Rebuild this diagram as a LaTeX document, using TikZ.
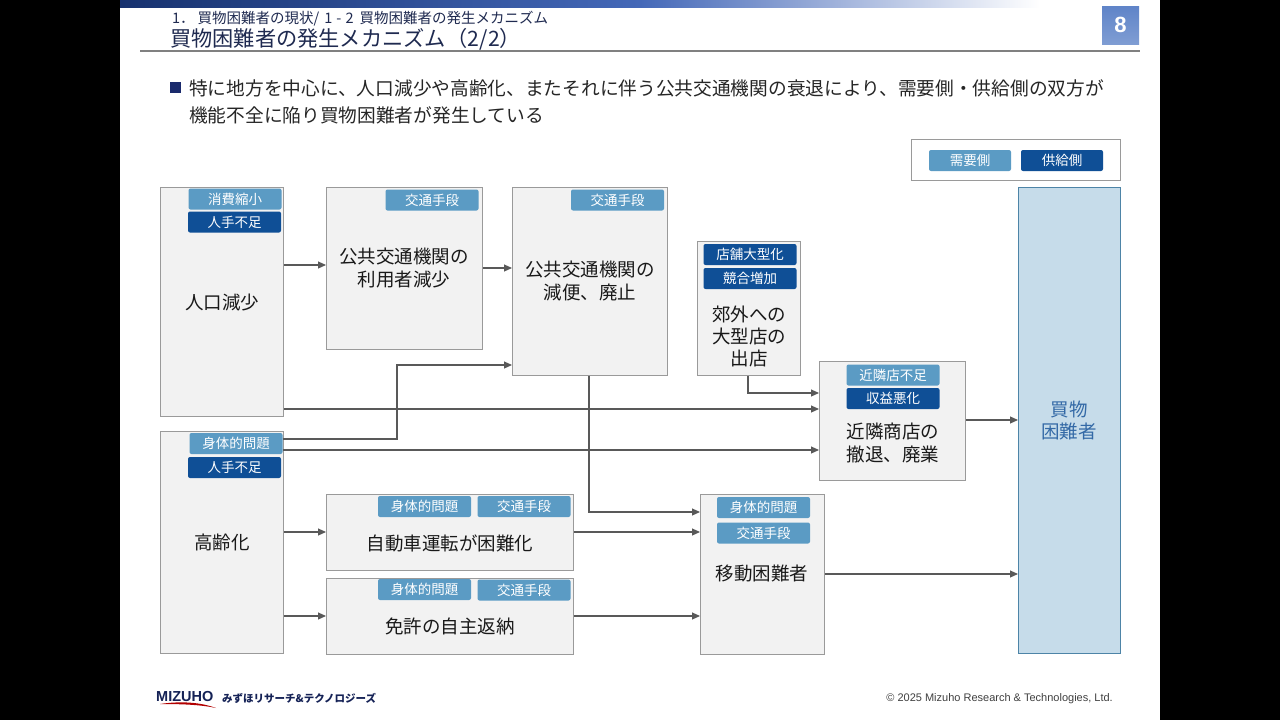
\documentclass[tikz,border=0pt]{standalone}
\usepackage{fontspec}
\setmainfont{Noto Sans CJK JP}
\newfontfamily\latinf{Liberation Sans}
\usetikzlibrary{arrows.meta,calc}
\definecolor{tagl}{HTML}{5B9BC4}
\definecolor{tagd}{HTML}{0F4F96}
\definecolor{boxf}{HTML}{F2F2F2}
\definecolor{boxd}{HTML}{9A9A9A}
\definecolor{conn}{HTML}{595959}
\definecolor{navy}{HTML}{1A2A6C}
\definecolor{titlec}{HTML}{1F2A50}
\definecolor{barl}{HTML}{17326F}
\definecolor{barm}{HTML}{4468B8}
\definecolor{pgt}{HTML}{5F84C8}
\definecolor{pgb}{HTML}{7F9DD3}
\tikzset{
  px/.style={x=1pt,y=-1pt},
  bodyt/.style={font=\fontsize{18.5}{22.3}\selectfont,text=black!90,align=center,inner sep=0pt},
  tagbase/.style={rounded corners=2pt,inner sep=0pt,text=white,font=\fontsize{13.5}{15}\selectfont,minimum width=93pt,minimum height=21pt},
  tagl/.style={tagbase,fill=tagl},
  tagd/.style={tagbase,fill=tagd},
  arr/.style={draw=conn,line width=1.05pt,-{Triangle[length=8pt,width=7pt]}},
}
\newcommand{\bx}[6][]{\node[draw=boxd,fill=boxf,line width=0.9pt,inner sep=0pt,
  minimum width=#5pt-#3pt-0.9pt,minimum height=#6pt-#4pt-0.9pt,#1] (#2) at ({(#3+#5)/2},{(#4+#6)/2}) {};}
\begin{document}
\begin{tikzpicture}[px]
\useasboundingbox (0,0) rectangle (1280,720);
\fill[black] (0,0) rectangle (1280,720);
\fill[white] (120,0) rectangle (1160,720);
% header
\shade[left color=barl,right color=barm] (120,0) rectangle (640,7);
\shade[left color=barm,right color=white] (640,0) rectangle (1040,7);
\node[anchor=west,inner sep=0pt,text=titlec,font=\fontsize{14.5}{16}\selectfont] (sub) at (172,18.5) {1．\hspace{3pt}買物困難者の現状/\hspace{5pt}1\hspace{4pt}-\hspace{4pt}2\hspace{6pt}買物困難者の発生メカニズム};
\node[anchor=west,inner sep=0pt,text=titlec,font=\fontsize{21.2}{24}\selectfont] (ttl) at (170,39) {買物困難者の発生メカニズム\hspace{1pt}（2/2）};
\draw[draw=gray,line width=1.3pt] (140,51) -- (1140,51);
\node[minimum width=37pt,minimum height=38pt,inner sep=0pt,top color=pgt,bottom color=pgb,text=white,font=\fontsize{22}{24}\selectfont\bfseries\latinf] (pg) at (1120.5,25) {8};
\fill[navy] (170,82) rectangle (181,93);
\node[anchor=west,inner sep=0pt,text=black!85,font=\fontsize{18.7}{23}\selectfont] (l1) at (189,88) {特に地方を中心に、人口減少や高齢化、またそれに伴う公共交通機関の衰退により、需要側・供給側の双方が};
\node[anchor=west,inner sep=0pt,text=black!85,font=\fontsize{18.7}{23}\selectfont] (l2) at (189,115) {機能不全に陥り買物困難者が発生している};
% legend
\node[draw=boxd,fill=white,line width=0.9pt,minimum width=209pt,minimum height=41pt,inner sep=0pt] (leg) at (1016,160) {};
\node[tagl,minimum width=82pt] (lga) at (970,160.5) {需要側};
\node[tagd,minimum width=82pt] (lgb) at (1062,160.5) {供給側};
% boxes
\bx{A}{160}{187}{284}{417}
\bx{B}{326}{187}{483}{350}
\bx{C}{512}{187}{668}{376}
\bx{D}{697}{241}{801}{376}
\bx{E}{819}{361}{966}{481}
\bx[draw=tagl!85!black,fill=tagl!35!white]{F}{1018}{187}{1121}{654}
\bx{G}{160}{431}{284}{654}
\bx{H}{326}{494}{574}{571}
\bx{I}{326}{578}{574}{655}
\bx{J}{700}{494}{825}{655}
% box labels
\node[bodyt] (tA) at (222,302) {人口減少};
\node[bodyt] (tB) at (404,268) {公共交通機関の\\利用者減少};
\node[bodyt] (tC) at (590,281) {公共交通機関の\\減便、廃止};
\node[bodyt] (tD) at (749,336.5) {郊外への\\大型店の\\出店};
\node[bodyt] (tE) at (893,443) {近隣商店の\\撤退、廃業};
\node[bodyt,text=tagd!85!white] (tF) at (1069,420.5) {買物\\困難者};
\node[bodyt] (tG) at (222,542) {高齢化};
\node[bodyt] (tH) at (450,543) {自動車運転が困難化};
\node[bodyt] (tI) at (450,626) {免許の自主返納};
\node[bodyt] (tJ) at (762,574) {移動困難者};
% tags
\node[tagl] (a1) at (235,199) {消費縮小};
\node[tagd] (a2) at (234.5,222) {人手不足};
\node[tagl] (b1) at (432,200) {交通手段};
\node[tagl] (c1) at (617.5,200) {交通手段};
\node[tagd] (d1) at (750,254.5) {店舗大型化};
\node[tagd] (d2) at (750,278.5) {競合増加};
\node[tagl] (e1) at (893,375) {近隣店不足};
\node[tagd] (e2) at (893,398.5) {収益悪化};
\node[tagl] (g1) at (236,443.5) {身体的問題};
\node[tagd] (g2) at (234.5,467.5) {人手不足};
\node[tagl] (h1) at (424.5,506.5) {身体的問題};
\node[tagl] (h2) at (524,506.5) {交通手段};
\node[tagl] (i1) at (424.5,589.5) {身体的問題};
\node[tagl] (i2) at (524,590) {交通手段};
\node[tagl] (j1) at (763.5,507.5) {身体的問題};
\node[tagl] (j2) at (763.5,533) {交通手段};
% connectors
\draw[arr] (A.east |- 0,265) -- (B.west |- 0,265);
\draw[arr] (B.east |- 0,268) -- (C.west |- 0,268);
\draw[arr] (g1.east |- 0,439) -- (397,439) -- (397,365) -- (C.west |- 0,365);
\draw[arr] (A.east |- 0,409) -- (E.west |- 0,409);
\draw[arr] (g1.east |- 0,450) -- (E.west |- 0,450);
\draw[arr] (748,376) -- (748,393) -- (E.west |- 0,393);
\draw[arr] (E.east |- 0,420) -- (F.west |- 0,420);
\draw[arr] (589,376) -- (589,512) -- (J.west |- 0,512);
\draw[arr] (G.east |- 0,532) -- (H.west |- 0,532);
\draw[arr] (G.east |- 0,616) -- (I.west |- 0,616);
\draw[arr] (H.east |- 0,532) -- (J.west |- 0,532);
\draw[arr] (I.east |- 0,616) -- (J.west |- 0,616);
\draw[arr] (J.east |- 0,574) -- (F.west |- 0,574);
% footer
\node[anchor=west,inner sep=0pt,text=navy!80!black,font=\fontsize{14.5}{16}\selectfont\bfseries\latinf] (mz) at (156,697) {MIZUHO};
\fill[red!70!black] (160,704) .. controls (180,701) and (200,702) .. (216,708) .. controls (200,704.5) and (180,704) .. (160,704) -- cycle;
\node[anchor=west,inner sep=0pt,text=navy!80!black,font=\fontsize{10.5}{14}\selectfont\bfseries] (mzj) at (222,698.5) {みずほリサーチ\&テクノロジーズ};
\node[anchor=east,inner sep=0pt,text=black!75,font=\fontsize{11}{12}\selectfont\latinf] (cp) at (1113,698.5) {© 2025 Mizuho Research \& Technologies, Ltd.};
\end{tikzpicture}
\end{document}
